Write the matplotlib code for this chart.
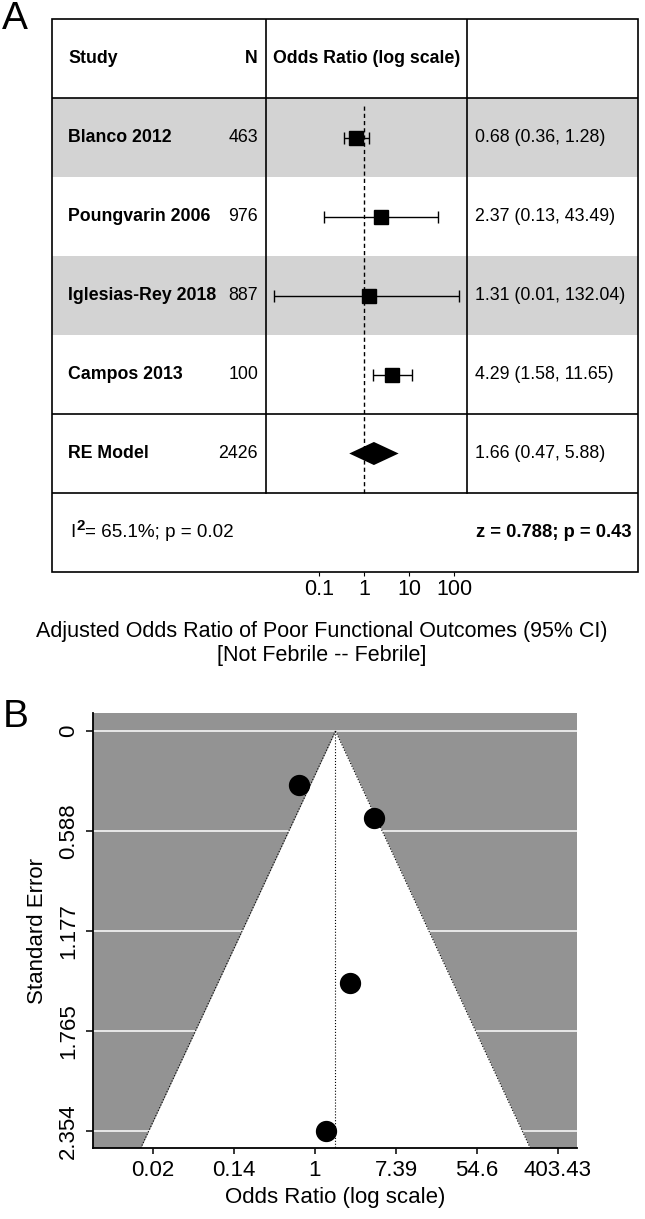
import numpy as np
import matplotlib.pyplot as plt
import matplotlib
from matplotlib.patches import Rectangle
from matplotlib.ticker import NullLocator
matplotlib.rcParams["font.family"] = ["Liberation Sans", "DejaVu Sans"]

# forest plot data
studies = ["Blanco 2012", "Poungvarin 2006", "Iglesias-Rey 2018", "Campos 2013"]
n = [463, 976, 887, 100]
odds = np.array([0.68, 2.37, 1.31, 4.29])
ci_low = np.array([0.36, 0.13, 0.01, 1.58])
ci_high = np.array([1.28, 43.49, 132.04, 11.65])
re_n = 2426
re_est, re_low, re_high = 1.66, 0.47, 5.88
het_text = "= 65.1%; p = 0.02"
z_text = "z = 0.788; p = 0.43"
forest_ticks = [0.1, 1, 10, 100]

# funnel plot data
funnel_or = np.array([0.68, 4.29, 2.37, 1.31])
funnel_se = np.array([0.32, 0.51, 1.48, 2.354])
se_ticks = [0, 0.588, 1.177, 1.765, 2.354]
se_labels = ["0", "0.588", "1.177", "1.765", "2.354"]
or_ticks = np.exp([-4, -2, 0, 2, 4, 6])
or_labels = ["0.02", "0.14", "1", "7.39", "54.6", "403.43"]

W, H = 645, 1219
fig = plt.figure(figsize=(W / 100, H / 100), dpi=100)


def box(x0, y0, x1, y1):
    return [x0 / W, 1 - y1 / H, (x1 - x0) / W, (y1 - y0) / H]


# ---- panel A: table
tab = fig.add_axes(box(52, 19, 638, 572))
tab.set_xlim(0, 586)
tab.set_ylim(7, 0)
tab.axis("off")
for i in (0, 2):
    tab.axhspan(i + 1, i + 2, color="#d3d3d3", lw=0)
lw = 1.2
tab.add_patch(Rectangle((0, 0), 586, 7, fill=False, lw=lw, clip_on=False))
for y in (1, 5, 6):
    tab.plot([0, 586], [y, y], color="black", lw=lw)
for x in (214, 415):
    tab.plot([x, x], [0, 6], color="black", lw=lw)

fs = 12.8
tab.text(16, 0.5, "Study", fontweight="bold", va="center", fontsize=fs)
tab.text(206, 0.5, "N", fontweight="bold", va="center", ha="right", fontsize=fs)
tab.text(221, 0.5, "Odds Ratio (log scale)", fontweight="bold", va="center", fontsize=fs)
for i, s in enumerate(studies):
    y = 1.5 + i
    tab.text(16, y, s, fontweight="bold", va="center", fontsize=fs)
    tab.text(206, y, str(n[i]), va="center", ha="right", fontsize=fs)
    tab.text(423, y, f"{odds[i]:.2f} ({ci_low[i]:.2f}, {ci_high[i]:.2f})", va="center", fontsize=fs)
tab.text(16, 5.5, "RE Model", fontweight="bold", va="center", fontsize=fs)
tab.text(206, 5.5, str(re_n), va="center", ha="right", fontsize=fs)
tab.text(423, 5.5, f"{re_est:.2f} ({re_low:.2f}, {re_high:.2f})", va="center", fontsize=fs)
# I^2 with a raised 2
fs2 = 13.6
t1 = tab.text(18, 6.5, "I", va="center", fontsize=fs2)
t2 = tab.annotate("2", xy=(1, 1), xycoords=t1, xytext=(0.8, 3.5), textcoords="offset points",
                  va="top", ha="left", fontsize=11, fontweight="bold")
tab.annotate(het_text, xy=(1, 0.5), xycoords=(t2, t1), va="center", ha="left", fontsize=fs2)
tab.text(580, 6.5, z_text, va="center", ha="right", fontsize=13.2, fontweight="bold")

# forest marks
fp = fig.add_axes(box(266, 19, 467, 572))
fp.set_xscale("log")
fp.set_xlim(10 ** -2.178, 10 ** 2.289)
fp.set_ylim(7, 0)
fp.patch.set_alpha(0)
for sp in fp.spines.values():
    sp.set_visible(False)
fp.set_yticks([])
fp.set_xticks(forest_ticks, [str(t) for t in forest_ticks])
fp.xaxis.set_minor_locator(NullLocator())
fp.tick_params(axis="x", length=3, pad=2, labelsize=15.5)
ys = np.arange(len(studies)) + 1.5
fp.errorbar(odds, ys, xerr=[odds - ci_low, ci_high - odds], fmt="s", color="black",
            ms=9.5, capsize=4.3, elinewidth=1, capthick=1)
h = 0.146
fp.fill([re_low, re_est, re_high, re_est], [5.5, 5.5 - h, 5.5, 5.5 + h], color="black", lw=0)
fp.axvline(1, ymin=1 / 7, ymax=6 / 7 - 0.01, color="black", lw=1, ls=(0, (3, 2.2)))

fig.text(322 / W, 1 - 632 / H, "Adjusted Odds Ratio of Poor Functional Outcomes (95% CI)",
         ha="center", va="center", fontsize=15.5)
fig.text(322 / W, 1 - 655 / H, "[Not Febrile -- Febrile]", ha="center", va="center", fontsize=15.5)
fig.text(2 / W, 1 - 1 / H, "A", ha="left", va="top", fontsize=28)

# ---- panel B: funnel plot
fn = fig.add_axes(box(93, 713, 577, 1148))
fn.set_xscale("log")
fn.set_xlim(np.exp(-5.48), np.exp(6.47))
ybot = 2.453
fn.set_ylim(ybot, -0.106)
fn.set_facecolor("#939393")
for y in se_ticks:
    fn.axhline(y, color="white", lw=1.1, zorder=1)
se_grid = np.array([0, ybot])
left = re_est * np.exp(-1.96 * se_grid)
right = re_est * np.exp(1.96 * se_grid)
fn.fill_betweenx(se_grid, left, right, color="white", lw=0, zorder=2)
fn.plot(left, se_grid, ls=":", color="black", lw=0.8, zorder=3)
fn.plot(right, se_grid, ls=":", color="black", lw=0.8, zorder=3)
fn.plot([re_est, re_est], [0, ybot], ls=":", color="black", lw=0.8, zorder=3)
fn.scatter(funnel_or, funnel_se, s=205, color="black", zorder=4)
fn.spines["top"].set_visible(False)
fn.spines["right"].set_visible(False)
fn.spines["left"].set_linewidth(1.3)
fn.spines["bottom"].set_linewidth(1.3)
fn.set_xticks(or_ticks, or_labels)
fn.xaxis.set_minor_locator(NullLocator())
fn.set_yticks(se_ticks, se_labels, rotation=90, va="center")
fn.tick_params(axis="x", length=4.3, pad=4, labelsize=16, width=1.1)
fn.tick_params(axis="y", length=5, pad=5, labelsize=16, width=1.1)
fn.set_xlabel("Odds Ratio (log scale)", fontsize=16, labelpad=5)
fn.set_ylabel("Standard Error", fontsize=16, labelpad=7)
fig.text(3 / W, 1 - 699 / H, "B", ha="left", va="top", fontsize=28)

fig.savefig("out.png", dpi=100)
